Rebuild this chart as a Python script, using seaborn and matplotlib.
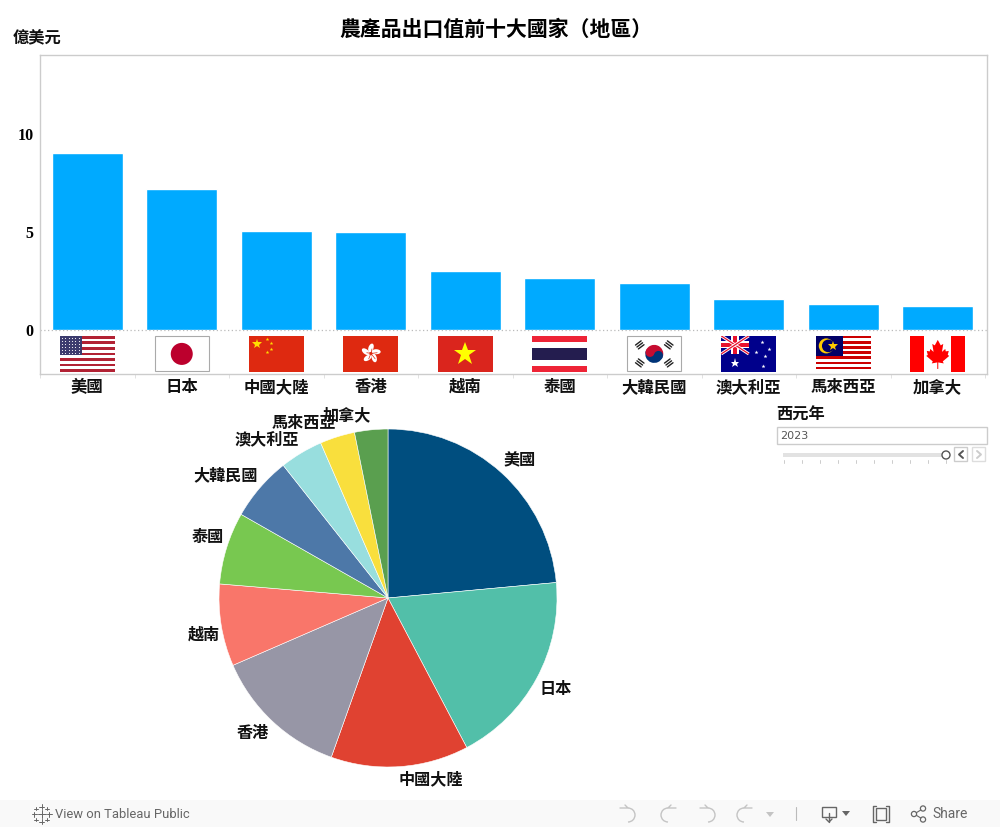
import numpy as np
import pandas as pd
import matplotlib
matplotlib.use("Agg")
import matplotlib.pyplot as plt
from matplotlib.patches import Rectangle, Circle, Ellipse, Wedge, Polygon, Arc
import seaborn as sns

countries = ["美國", "日本", "中國大陸", "香港", "越南", "泰國", "大韓民國", "澳大利亞", "馬來西亞", "加拿大"]
values = [9.03, 7.19, 5.05, 5.00, 3.01, 2.65, 2.35, 1.58, 1.28, 1.22]
pie_colors = ["#004E7F", "#52BFA9", "#E04231", "#9796A6", "#F9766A",
              "#78C850", "#4D78A8", "#98DEDE", "#F9DF3D", "#5A9F4F"]
y_ticks = [0, 5, 10]
title = "農產品出口值前十大國家（地區）"
unit = "億美元"
year_label = "西元年"
year = "2023"

sns.set_theme(style="white")
plt.rcParams["font.family"] = ["Noto Sans CJK TC", "DejaVu Sans"]

W, H = 1000, 827
fig = plt.figure(figsize=(W / 100, H / 100), dpi=100, facecolor="white")


def px_axes(x0, y0, x1, y1):
    return fig.add_axes([x0 / W, 1 - y1 / H, (x1 - x0) / W, (y1 - y0) / H])


# flags, drawn in a 55x36 box with y going down
def stars(ax, xs, ys, size, color="#FFDE00"):
    ax.plot(xs, ys, ls="", marker="*", ms=size, color=color, mew=0)


def flag_us(ax):
    ax.add_patch(Rectangle((0, 0), 55, 36, color="white"))
    for i in range(0, 13, 2):
        ax.add_patch(Rectangle((0, i * 36 / 13), 55, 36 / 13, color="#B22234", lw=0))
    ax.add_patch(Rectangle((0, 0), 22, 19.4, color="#3C3B6E", lw=0))
    gx, gy = np.meshgrid(np.arange(2, 22, 3.4), np.arange(2, 19, 3))
    ax.plot(gx.ravel(), gy.ravel(), ls="", marker=".", ms=1.6, color="white", mew=0)


def flag_jp(ax):
    ax.add_patch(Rectangle((0.5, 0.5), 54, 35, fc="white", ec="#AAAAAA", lw=0.8, clip_on=False))
    ax.add_patch(Circle((27.5, 18), 11, color="#BC002D", lw=0))


def flag_cn(ax):
    ax.add_patch(Rectangle((0, 0), 55, 36, color="#DE2910", lw=0))
    stars(ax, [8.7], [8.3], 7)
    stars(ax, [18.3, 22, 22, 18.3], [3.3, 7, 12.7, 16], 2.8)


def flag_hk(ax):
    ax.add_patch(Rectangle((0, 0), 55, 36, color="#DE2910", lw=0))
    for a in range(90, 450, 72):
        r = np.radians(a)
        c = (27.7 + 5.5 * np.cos(r), 17.5 - 5.5 * np.sin(r))
        ax.add_patch(Ellipse(c, 9, 5, angle=-a + 20, color="white", lw=0))
        ax.plot([27.7, c[0] + 1], [17.5, c[1] + 1], color="#DE2910", lw=0.5)


def flag_vn(ax):
    ax.add_patch(Rectangle((0, 0), 55, 36, color="#DA251D", lw=0))
    stars(ax, [27.5], [18], 17, "#FFFF00")


def flag_th(ax):
    ax.add_patch(Rectangle((0, 0), 55, 36, color="white", lw=0))
    ax.add_patch(Rectangle((0, 0), 55, 6, color="#EE2436", lw=0))
    ax.add_patch(Rectangle((0, 30), 55, 6, color="#EE2436", lw=0))
    ax.add_patch(Rectangle((0, 12), 55, 12, color="#241D4F", lw=0))


def flag_kr(ax):
    ax.add_patch(Rectangle((0.5, 0.5), 54, 35, fc="white", ec="#AAAAAA", lw=0.8, clip_on=False))
    ax.add_patch(Wedge((27.5, 18), 9, 20, 200, color="#003478", lw=0))
    ax.add_patch(Wedge((27.5, 18), 9, 200, 380, color="#C60C30", lw=0))
    ax.add_patch(Circle((23.3, 16.5), 4.5, color="#C60C30", lw=0))
    ax.add_patch(Circle((31.7, 19.5), 4.5, color="#003478", lw=0))
    for cx, cy, a in [(13, 9, 1), (42, 9, -1), (13, 27, -1), (42, 27, 1)]:
        for d in (-2.4, 0, 2.4):
            ox, oy = d * 0.6 * a, d * 0.8
            ax.plot([cx + ox - 3.5 * 0.8, cx + ox + 3.5 * 0.8],
                    [cy + oy + 3.5 * 0.6 * a, cy + oy - 3.5 * 0.6 * a], color="#222222", lw=1)


def flag_au(ax):
    ax.add_patch(Rectangle((0, 0), 55, 36, color="#00008B", lw=0))
    clip = Rectangle((0, 0), 27.5, 18, transform=ax.transData)
    for (x0, y0, x1, y1) in [(0, 0, 27.5, 18), (0, 18, 27.5, 0)]:
        ax.plot([x0, x1], [y0, y1], color="white", lw=2.2, solid_capstyle="butt", clip_path=clip)
        ax.plot([x0, x1], [y0, y1], color="#E8112D", lw=0.9, solid_capstyle="butt", clip_path=clip)
    ax.add_patch(Rectangle((10, 0), 7.5, 18, color="white", lw=0))
    ax.add_patch(Rectangle((0, 5.5), 27.5, 7, color="white", lw=0))
    ax.add_patch(Rectangle((11.5, 0), 4.5, 18, color="#E8112D", lw=0))
    ax.add_patch(Rectangle((0, 7), 27.5, 4, color="#E8112D", lw=0))
    stars(ax, [13.7], [26.7], 6.5, "white")
    stars(ax, [41, 34.3, 47.3, 43.7, 41.3], [5.7, 15.7, 13, 19.7, 30], 3, "white")


def flag_my(ax):
    for i in range(14):
        c = "#CC0001" if i % 2 == 0 else "white"
        ax.add_patch(Rectangle((0, i * 36 / 14), 55, 36 / 14, color=c, lw=0))
    ax.add_patch(Rectangle((0, 0), 27.5, 20.5, color="#010066", lw=0))
    ax.add_patch(Circle((10.5, 10), 7.5, color="#FFCC00", lw=0))
    ax.add_patch(Circle((12.5, 10), 6.3, color="#010066", lw=0))
    stars(ax, [17], [10], 7.5, "#FFCC00")


def flag_ca(ax):
    ax.add_patch(Rectangle((0, 0), 55, 36, color="white", lw=0))
    ax.add_patch(Rectangle((0, 0), 14, 36, color="#FF0000", lw=0))
    ax.add_patch(Rectangle((41, 0), 14, 36, color="#FF0000", lw=0))
    leaf = [(27.5, 4), (24.5, 9.5), (22, 8), (23.3, 16), (20, 13), (19.5, 15.5), (16.5, 15),
            (17.5, 19), (16, 20), (22.5, 25.5), (21.5, 27.5), (27, 26.5), (27, 33), (28, 33),
            (28, 26.5), (33.5, 27.5), (32.5, 25.5), (39, 20), (37.5, 19), (38.5, 15),
            (35.5, 15.5), (35, 13), (31.7, 16), (33, 8), (30.5, 9.5)]
    ax.add_patch(Polygon(leaf, color="#FF0000", lw=0))


flag_funcs = [flag_us, flag_jp, flag_cn, flag_hk, flag_vn, flag_th, flag_kr, flag_au, flag_my, flag_ca]

df = pd.DataFrame({"country": countries, "value": values})

# top bar chart
ax = px_axes(40, 55, 987, 374)
sns.barplot(df, x="country", y="value", color="#00AAFF", saturation=1, width=0.755, ax=ax)
ax.set_xlim(-0.492, 9.521)
ax.set_ylim(-2.27, 14.005)
ax.set_xlabel("")
ax.set_ylabel("")
ax.set_yticks(y_ticks)
ax.set_yticklabels([str(t) for t in y_ticks], family="Liberation Serif", fontweight="bold",
                   fontsize=11.5, color="black")
ax.tick_params(axis="y", length=0, pad=4.5)
ax.tick_params(axis="x", which="major", length=0, pad=13, labelsize=11.8)
for lab in ax.get_xticklabels():
    lab.set_fontweight("bold")
    lab.set_color("#111111")
    lab.set_verticalalignment("baseline")
ax.set_xticks(np.arange(-0.5, 10), minor=True)
ax.tick_params(axis="x", which="minor", length=3, width=0.6, color="#DDDDDD", bottom=True)
ax.axhline(0, color="#BBBBBB", lw=0.9, ls=(0, (1, 2)), zorder=1)
for s in ax.spines.values():
    s.set_color("#CCCCCC")
    s.set_linewidth(1)
    s.set_visible(True)

for i, draw in enumerate(flag_funcs):
    fa = ax.inset_axes([i - 0.291, -2.165, 0.582, 1.84], transform=ax.transData)
    fa.set_xlim(0, 55)
    fa.set_ylim(36, 0)
    fa.axis("off")
    draw(fa)

# pie chart
pax = px_axes(219, 429, 557, 767)
wedges, texts = pax.pie(values, labels=countries, colors=pie_colors, startangle=90, counterclock=False,
                        labeldistance=1.03, wedgeprops={"edgecolor": "white", "linewidth": 0.4},
                        textprops={"fontsize": 11.6, "fontweight": "bold", "color": "#111111"})
pax.set_xlim(-1, 1)
pax.set_ylim(-1, 1)
for t in texts:
    x, y = t.get_position()
    t.set_verticalalignment("bottom" if y > 0 else "top")
    dx = 0.0
    if t.get_text() == "越南":
        dx = 0.025
    elif t.get_text() in ("泰國", "大韓民國"):
        dx = 0.012
    elif t.get_text() in ("美國", "日本", "中國大陸"):
        dx = -0.008
    t.set_position((x + dx, y + (0.008 if y > 0 else 0)))

# page overlay: headings, year slider, tableau footer
ov = fig.add_axes([0, 0, 1, 1], zorder=5)
ov.set_xlim(0, W)
ov.set_ylim(H, 0)
ov.axis("off")
ov.patch.set_alpha(0)

ov.text(496, 29, title, ha="center", va="center", fontsize=15, fontweight="bold", color="black")
ov.text(12.5, 38.5, unit, ha="left", va="center", fontsize=11.7, fontweight="bold", color="#111111")

ov.text(776.5, 414.5, year_label, ha="left", va="center", fontsize=11.7, fontweight="bold", color="#111111")
ov.add_patch(Rectangle((777, 427), 209.5, 17, fc="white", ec="#CCCCCC", lw=1))
ov.text(780.5, 436, year, ha="left", va="center", fontsize=8, color="#555555", family="DejaVu Sans")
ov.add_patch(Rectangle((783, 453), 160, 4, color="#E2E2E2", lw=0))
for tx in np.linspace(783.5, 946, 10):
    ov.plot([tx, tx], [460, 463], color="#CCCCCC", lw=0.7)
ov.add_patch(Circle((946, 455), 4, fc="white", ec="#555555", lw=1, zorder=3))
ov.add_patch(Rectangle((954, 447), 13, 14, fc="white", ec="#CCCCCC", lw=1))
ov.add_patch(Rectangle((972, 447), 13, 14, fc="white", ec="#DDDDDD", lw=1))
ov.plot([963, 959, 963], [451, 454.5, 458], color="#555555", lw=1.4)
ov.plot([977, 981, 977], [451, 454.5, 458], color="#CCCCCC", lw=1.4)

ov.add_patch(Rectangle((0, 800), W, 27, color="#F9F9F9", lw=0))
ov.text(55, 814, "View on Tableau Public", ha="left", va="center", fontsize=9.4, color="#666666",
        family="Roboto")
ov.text(932, 814, "Share", ha="left", va="center", fontsize=10, color="#666666", family="Roboto")
# tableau mark
for cx, cy, r in [(41.5, 814, 4), (41.5, 806.5, 2.5), (41.5, 821.5, 2.5), (34, 814, 2.5), (49, 814, 2.5),
                  (36, 808.5, 1.7), (47, 808.5, 1.7), (36, 819.5, 1.7), (47, 819.5, 1.7)]:
    ov.plot([cx - r, cx + r], [cy, cy], color="#666666", lw=0.7)
    ov.plot([cx, cx], [cy - r, cy + r], color="#666666", lw=0.7)
# undo / redo
for cx, flip, col in [(628, 1, "#C4C4C4"), (668, -1, "#C4C4C4"), (708, 1, "#C4C4C4"), (744, -1, "#C4C4C4")]:
    ov.add_patch(Arc((cx, 815), 14, 14, theta1=-90 if flip == 1 else 90, theta2=90 if flip == 1 else 270,
                     color=col, lw=1))
    ov.plot([cx - 8 * flip, cx, cx - 3 * flip], [808, 808, 805], color=col, lw=1)
ov.add_patch(Polygon([(766, 812), (774, 812), (770, 817)], color="#C4C4C4", lw=0))
ov.plot([795.5, 795.5], [807, 820], color="#BBBBBB", lw=0.8)
# download
ov.add_patch(Rectangle((822, 807), 14, 10, fc="none", ec="#666666", lw=1))
ov.plot([829, 829], [813, 822], color="#666666", lw=1)
ov.plot([826, 829, 832], [819, 822, 819], color="#666666", lw=1)
ov.add_patch(Polygon([(842, 811), (850, 811), (846, 816)], color="#666666", lw=0))
# fullscreen
ov.add_patch(Rectangle((876, 808), 10, 12, fc="none", ec="#666666", lw=1))
for xa in (873, 889):
    d = 3 if xa < 880 else -3
    ov.plot([xa + d, xa, xa, xa + d], [806, 806, 822, 822], color="#666666", lw=1)
# share
for cx, cy in [(914, 814), (923, 808.5), (923, 819.5)]:
    ov.add_patch(Circle((cx, cy), 2.6, fc="none", ec="#666666", lw=0.9))
ov.plot([916.5, 920.8], [812.6, 810], color="#666666", lw=0.8)
ov.plot([916.5, 920.8], [815.4, 818], color="#666666", lw=0.8)

fig.savefig("out.png", dpi=100)
